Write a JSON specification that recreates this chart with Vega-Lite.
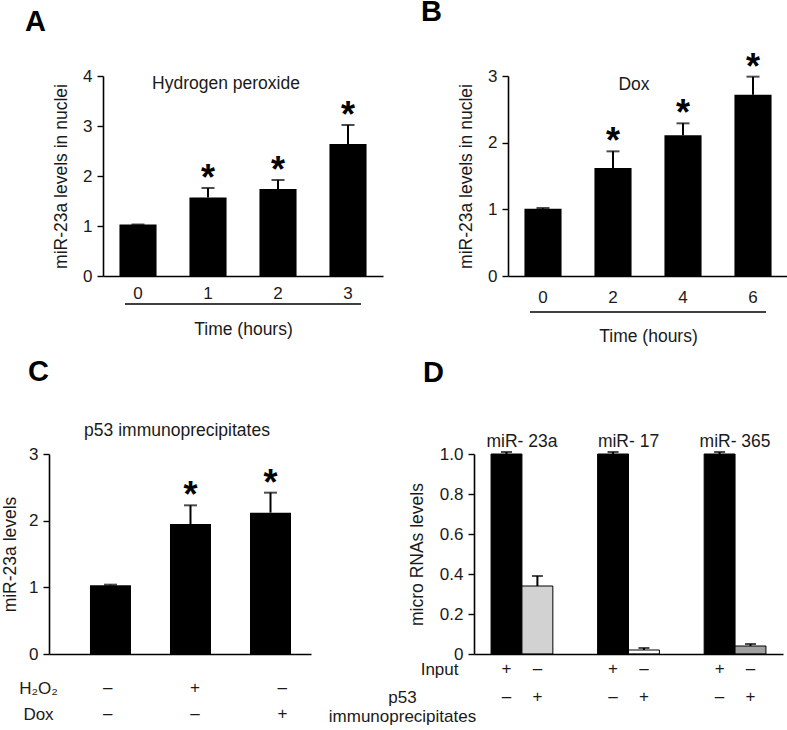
{
  "$schema": "https://vega.github.io/schema/vega-lite/v6.json",
  "padding": {"left": 0, "top": -3, "right": 0, "bottom": 0},
  "background": "white",
  "spacing": 12,
  "vconcat": [
    {
      "spacing": 0,
      "hconcat": [
        {"width": 25, "height": 1, "data": {"values": []}, "mark": "point"},
        {
          "spacing": 38,
          "hconcat": [
            {
              "bounds": "flush",
              "center": true,
              "spacing": 27,
              "title": {"text": "A", "anchor": "start", "frame": "group", "fontSize": 29, "fontWeight": "bold", "color": "#000", "dx": -78, "offset": 30},
              "vconcat": [
                {
                  "width": 280,
                  "height": 200,
                  "title": {"text": "Hydrogen peroxide", "anchor": "middle", "offset": -25, "dx": -17},
                  "data": {"values": [
                    {"t": "0", "v": 1.03, "hi": 1.03, "sig": ""},
                    {"t": "1", "v": 1.57, "hi": 1.76, "sig": "*"},
                    {"t": "2", "v": 1.74, "hi": 1.92, "sig": "*"},
                    {"t": "3", "v": 2.64, "hi": 3.02, "sig": "*"}
                  ]},
                  "encoding": {
                    "x": {"field": "t", "type": "nominal", "sort": null, "scale": {"paddingInner": 0.47, "paddingOuter": 0.235},
                      "axis": {"title": null, "labelAngle": 0, "ticks": false, "tickSize": 0, "labelPadding": 9}}
                  },
                  "layer": [
                    {"mark": {"type": "bar", "color": "#000"},
                     "encoding": {"y": {"field": "v", "type": "quantitative", "title": "miR-23a levels in nuclei", "scale": {"domain": [0, 4], "nice": false},
                       "axis": {"values": [0, 1, 2, 3, 4], "tickCount": 5, "format": "d", "tickSize": 6, "labelPadding": 5, "titlePadding": 12}}}},
                    {"mark": {"type": "rule", "color": "#000", "strokeWidth": 2},
                     "encoding": {"y": {"field": "v", "type": "quantitative", "title": "miR-23a levels in nuclei"}, "y2": {"field": "hi"}}},
                    {"mark": {"type": "tick", "orient": "horizontal", "color": "#000", "thickness": 2, "size": 13},
                     "encoding": {"y": {"field": "hi", "type": "quantitative", "title": "miR-23a levels in nuclei"}}},
                    {"mark": {"type": "text", "fontSize": 36, "fontWeight": "bold", "baseline": "alphabetic", "dy": 2, "color": "#000"},
                     "encoding": {"y": {"field": "hi", "type": "quantitative", "title": "miR-23a levels in nuclei"}, "text": {"field": "sig"}}}
                  ]
                },
                {
                  "width": 236,
                  "height": 2,
                  "data": {"values": [{"start": 0, "end": 3}]},
                  "mark": {"type": "rule", "color": "#000", "strokeWidth": 1.6},
                  "encoding": {
                    "x": {"field": "start", "type": "quantitative", "scale": {"domain": [0, 3], "nice": false, "zero": false},
                      "axis": {"title": "Time (hours)", "labels": false, "ticks": false, "domain": false, "titlePadding": 15}},
                    "x2": {"field": "end"}
                  }
                }
              ]
            },
            {
              "bounds": "flush",
              "center": true,
              "spacing": 35,
              "title": {"text": "B", "anchor": "start", "frame": "group", "fontSize": 29, "fontWeight": "bold", "color": "#000", "dx": -87, "offset": 23},
              "vconcat": [
                {
                  "width": 280,
                  "height": 200,
                  "title": {"text": "Dox", "anchor": "middle", "offset": -44, "dx": -14},
                  "data": {"values": [
                    {"t": "0", "v": 1.01, "hi": 1.02, "sig": ""},
                    {"t": "2", "v": 1.62, "hi": 1.87, "sig": "*"},
                    {"t": "4", "v": 2.11, "hi": 2.29, "sig": "*"},
                    {"t": "6", "v": 2.72, "hi": 2.99, "sig": "*"}
                  ]},
                  "encoding": {
                    "x": {"field": "t", "type": "nominal", "sort": null, "scale": {"paddingInner": 0.47, "paddingOuter": 0.235},
                      "axis": {"title": null, "labelAngle": 0, "ticks": false, "tickSize": 0, "labelPadding": 13}}
                  },
                  "layer": [
                    {"mark": {"type": "bar", "color": "#000"},
                     "encoding": {"y": {"field": "v", "type": "quantitative", "title": "miR-23a levels in nuclei", "scale": {"domain": [0, 3], "nice": false},
                       "axis": {"values": [0, 1, 2, 3], "format": "d", "tickSize": 6, "labelPadding": 5, "titlePadding": 12}}}},
                    {"mark": {"type": "rule", "color": "#000", "strokeWidth": 2},
                     "encoding": {"y": {"field": "v", "type": "quantitative", "title": "miR-23a levels in nuclei"}, "y2": {"field": "hi"}}},
                    {"mark": {"type": "tick", "orient": "horizontal", "color": "#000", "thickness": 2, "size": 13},
                     "encoding": {"y": {"field": "hi", "type": "quantitative", "title": "miR-23a levels in nuclei"}}},
                    {"mark": {"type": "text", "fontSize": 36, "fontWeight": "bold", "baseline": "alphabetic", "dy": 2, "color": "#000"},
                     "encoding": {"y": {"field": "hi", "type": "quantitative", "title": "miR-23a levels in nuclei"}, "text": {"field": "sig"}}}
                  ]
                },
                {
                  "width": 236,
                  "height": 2,
                  "data": {"values": [{"start": 0, "end": 6}]},
                  "mark": {"type": "rule", "color": "#000", "strokeWidth": 1.6},
                  "encoding": {
                    "x": {"field": "start", "type": "quantitative", "scale": {"domain": [0, 6], "nice": false, "zero": false},
                      "axis": {"title": "Time (hours)", "labels": false, "ticks": false, "domain": false, "titlePadding": 14}},
                    "x2": {"field": "end"}
                  }
                }
              ]
            }
          ]
        }
      ]
    },
    {
      "spacing": 0,
      "hconcat": [
        {"width": 1, "height": 1, "data": {"values": []}, "mark": "point"},
        {
          "spacing": 17,
          "hconcat": [
            {
              "bounds": "flush",
              "spacing": 21,
              "title": {"text": "C", "anchor": "start", "frame": "group", "fontSize": 29, "fontWeight": "bold", "color": "#000", "dx": -21, "offset": 35},
              "vconcat": [
                {
                  "width": 262,
                  "height": 200,
                  "title": {"text": "p53 immunoprecipitates", "anchor": "middle", "offset": 6, "dx": -3},
                  "data": {"values": [
                    {"cond": "Control", "v": 1.03, "hi": 1.04, "sig": ""},
                    {"cond": "H2O2", "v": 1.95, "hi": 2.23, "sig": "*"},
                    {"cond": "Dox", "v": 2.12, "hi": 2.42, "sig": "*"}
                  ]},
                  "encoding": {
                    "x": {"field": "cond", "type": "nominal", "sort": null, "scale": {"paddingInner": 0.4875, "paddingOuter": 0.381, "align": 0.672},
                      "axis": {"title": null, "labels": false, "ticks": false, "tickSize": 0}}
                  },
                  "layer": [
                    {"mark": {"type": "bar", "color": "#000"},
                     "encoding": {"y": {"field": "v", "type": "quantitative", "title": "miR-23a levels", "scale": {"domain": [0, 3], "nice": false},
                       "axis": {"values": [0, 1, 2, 3], "format": "d", "tickSize": 6, "labelPadding": 5, "titlePadding": 9}}}},
                    {"mark": {"type": "rule", "color": "#000", "strokeWidth": 2},
                     "encoding": {"y": {"field": "v", "type": "quantitative", "title": "miR-23a levels"}, "y2": {"field": "hi"}}},
                    {"mark": {"type": "tick", "orient": "horizontal", "color": "#000", "thickness": 2, "size": 13},
                     "encoding": {"y": {"field": "hi", "type": "quantitative", "title": "miR-23a levels"}}},
                    {"mark": {"type": "text", "fontSize": 36, "fontWeight": "bold", "baseline": "alphabetic", "dy": 2, "color": "#000"},
                     "encoding": {"y": {"field": "hi", "type": "quantitative", "title": "miR-23a levels"}, "text": {"field": "sig"}}}
                  ]
                },
                {
                  "width": 262,
                  "height": 52,
                  "data": {"values": [
                    {"cond": "Control", "treat": "H₂O₂", "sign": "–"},
                    {"cond": "H2O2", "treat": "H₂O₂", "sign": "+"},
                    {"cond": "Dox", "treat": "H₂O₂", "sign": "–"},
                    {"cond": "Control", "treat": "Dox", "sign": "–"},
                    {"cond": "H2O2", "treat": "Dox", "sign": "–"},
                    {"cond": "Dox", "treat": "Dox", "sign": "+"}
                  ]},
                  "mark": {"type": "text", "fontSize": 17, "color": "#1a1a1a"},
                  "encoding": {
                    "x": {"field": "cond", "type": "nominal", "sort": null, "scale": {"paddingInner": 0.4875, "paddingOuter": 0.381, "align": 0.672}, "axis": null},
                    "y": {"field": "treat", "type": "nominal", "sort": null,
                      "axis": {"title": null, "domain": false, "ticks": false, "tickSize": 0, "labelAlign": "center", "labelPadding": 11}},
                    "text": {"field": "sign"}
                  }
                }
              ]
            },
            {
              "bounds": "flush",
              "spacing": 1,
              "title": {"text": "D", "anchor": "start", "frame": "group", "fontSize": 29, "fontWeight": "bold", "color": "#000", "dx": -51, "offset": 44},
              "vconcat": [
                {
                  "width": 309,
                  "height": 200,
                  "data": {"values": [
                    {"mir": "miR- 23a", "src": "Input", "v": 1.0, "hi": 1.01},
                    {"mir": "miR- 23a", "src": "p53 IP", "v": 0.34, "hi": 0.39},
                    {"mir": "miR- 17", "src": "Input", "v": 1.0, "hi": 1.01},
                    {"mir": "miR- 17", "src": "p53 IP", "v": 0.02, "hi": 0.03},
                    {"mir": "miR- 365", "src": "Input", "v": 1.0, "hi": 1.01},
                    {"mir": "miR- 365", "src": "p53 IP", "v": 0.04, "hi": 0.05}
                  ]},
                  "encoding": {
                    "x": {"field": "mir", "type": "nominal", "sort": null, "scale": {"paddingInner": 0.42, "paddingOuter": 0.16},
                      "axis": {"orient": "top", "title": null, "labelAngle": 0, "domain": false, "ticks": false, "tickSize": 0, "labelPadding": 4, "labelFontSize": 17.5}},
                    "xOffset": {"field": "src", "type": "nominal", "sort": null, "scale": {"paddingInner": 0, "paddingOuter": 0}}
                  },
                  "layer": [
                    {"mark": {"type": "bar", "stroke": "#000", "strokeWidth": 1},
                     "encoding": {
                       "y": {"field": "v", "type": "quantitative", "title": "micro RNAs levels", "scale": {"domain": [0, 1], "nice": false},
                         "axis": {"values": [0, 0.2, 0.4, 0.6, 0.8, 1], "tickCount": 10, "format": ".1f", "labelOverlap": false,
                           "labelExpr": "datum.value == 0 ? '0' : datum.label",
                           "tickSize": 6, "labelPadding": 5, "titlePadding": 13}},
                       "color": {"condition": [
                         {"test": "datum.src == 'Input'", "value": "#000"},
                         {"test": "datum.mir == 'miR- 23a'", "value": "#d2d2d2"},
                         {"test": "datum.mir == 'miR- 365'", "value": "#a0a0a0"}
                       ], "value": "#fff"}
                     }},
                    {"mark": {"type": "rule", "color": "#000", "strokeWidth": 2},
                     "encoding": {"y": {"field": "v", "type": "quantitative", "title": "micro RNAs levels"}, "y2": {"field": "hi"}}},
                    {"mark": {"type": "tick", "orient": "horizontal", "color": "#000", "thickness": 2, "size": 11},
                     "encoding": {"y": {"field": "hi", "type": "quantitative", "title": "micro RNAs levels"}}}
                  ]
                },
                {
                  "width": 309,
                  "height": 56,
                  "data": {"values": [
                    {"mir": "miR- 23a", "src": "Input", "row": "Input", "sign": "+"},
                    {"mir": "miR- 23a", "src": "p53 IP", "row": "Input", "sign": "–"},
                    {"mir": "miR- 17", "src": "Input", "row": "Input", "sign": "+"},
                    {"mir": "miR- 17", "src": "p53 IP", "row": "Input", "sign": "–"},
                    {"mir": "miR- 365", "src": "Input", "row": "Input", "sign": "+"},
                    {"mir": "miR- 365", "src": "p53 IP", "row": "Input", "sign": "–"},
                    {"mir": "miR- 23a", "src": "Input", "row": "p53 immunoprecipitates", "sign": "–"},
                    {"mir": "miR- 23a", "src": "p53 IP", "row": "p53 immunoprecipitates", "sign": "+"},
                    {"mir": "miR- 17", "src": "Input", "row": "p53 immunoprecipitates", "sign": "–"},
                    {"mir": "miR- 17", "src": "p53 IP", "row": "p53 immunoprecipitates", "sign": "+"},
                    {"mir": "miR- 365", "src": "Input", "row": "p53 immunoprecipitates", "sign": "–"},
                    {"mir": "miR- 365", "src": "p53 IP", "row": "p53 immunoprecipitates", "sign": "+"}
                  ]},
                  "mark": {"type": "text", "fontSize": 17, "color": "#1a1a1a"},
                  "encoding": {
                    "x": {"field": "mir", "type": "nominal", "sort": null, "scale": {"paddingInner": 0.42, "paddingOuter": 0.16},
                      "axis": {"orient": "top", "title": null, "labels": false, "ticks": false, "tickSize": 0, "domain": true, "offset": 1}},
                    "xOffset": {"field": "src", "type": "nominal", "sort": null, "scale": {"paddingInner": 0, "paddingOuter": 0}},
                    "y": {"field": "row", "type": "nominal", "sort": null,
                      "axis": {"title": null, "domain": false, "ticks": false, "tickSize": 0, "labelLimit": 0, "labelLineHeight": 19,
                        "labelExpr": "datum.value == 'Input' ? datum.label : split(datum.label, ' ')",
                        "labelAlign": {"condition": {"test": "datum.value == 'Input'", "value": "right"}, "value": "center"},
                        "labelPadding": {"condition": {"test": "datum.value == 'Input'", "value": 16}, "value": 72}}},
                    "text": {"field": "sign"}
                  }
                }
              ]
            }
          ]
        }
      ]
    }
  ],
  "config": {
    "view": {"stroke": null},
    "font": "Liberation Sans",
    "axis": {"labelFont": "Liberation Sans", "titleFont": "Liberation Sans", "labelFontSize": 17, "titleFontSize": 17.5, "titleFontWeight": "normal",
      "labelColor": "#1a1a1a", "titleColor": "#1a1a1a", "domainColor": "#000", "tickColor": "#000", "domainWidth": 1.6, "tickWidth": 1.4, "grid": false,
      "labelOverlap": false, "labelFlush": false},
    "title": {"font": "Liberation Sans", "fontWeight": "normal", "fontSize": 17.5, "color": "#1a1a1a"},
    "text": {"font": "Liberation Sans"}
  }
}
